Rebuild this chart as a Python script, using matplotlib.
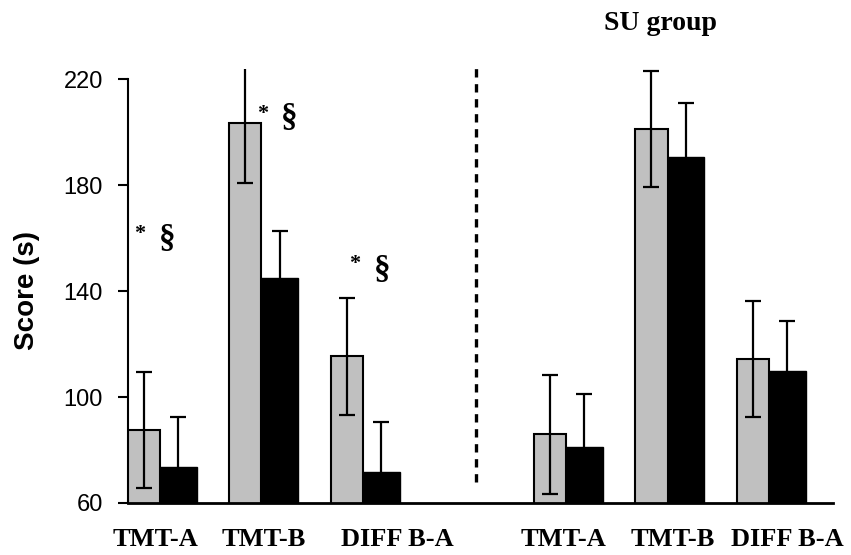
import matplotlib
matplotlib.use("Agg")
import matplotlib.pyplot as plt

# group positions (left group, gap, SU group)
positions = [0, 1, 2, 4, 5, 6]
labels = ["TMT-A", "TMT-B", "DIFF B-A", "TMT-A", "TMT-B", "DIFF B-A"]
label_pos = [-0.04, 1.02, 2.34, 3.97, 5.05, 6.18]

# grey bars / black bars, mean and SD
grey_vals = [87.5, 203.4, 115.3, 85.9, 201.1, 114.3]
grey_err = [22.0, 22.6, 22.1, 22.4, 21.9, 21.9]
black_vals = [73.6, 145.0, 71.7, 81.1, 190.6, 110.0]
black_err = [19.0, 17.6, 19.0, 20.0, 20.4, 18.7]

# significance marks: "*" and "§"
star_x = [-0.2, 1.015, 1.92]
star_y = [161.5, 206.8, 150.2]
sect_x = [0.07, 1.27, 2.19]
sect_y = [160, 205.3, 148]

fig = plt.figure(figsize=(8.51, 5.55), dpi=100, facecolor="white")
ax = fig.add_axes([0.1504, 0.0937, 0.8285, 0.7811])

xg = [p - 0.16 for p in positions]
xb = [p + 0.18 for p in positions]
ax.bar(xg, grey_vals, width=0.32, color="#c0c0c0", edgecolor="black", linewidth=1.5, zorder=2)
ax.bar(xb, black_vals, width=0.36, color="black", edgecolor="black", linewidth=1.0, zorder=2)
ax.errorbar(xg, grey_vals, yerr=grey_err, fmt="none", ecolor="black", elinewidth=1.6,
            capsize=6, capthick=1.6, zorder=3)
ax.errorbar(xb, black_vals, yerr=black_err, fmt="none", ecolor="black", elinewidth=1.6,
            capsize=6, capthick=1.6, zorder=3)

# dashed separator between the two groups
ax.plot([3.11, 3.11], [68, 225.3], color="black", lw=2.4, linestyle=(0, (2.5, 2.0)), clip_on=False)

for x, y in zip(star_x, star_y):
    ax.text(x, y, "*", ha="center", va="center", fontsize=16,
            family="Liberation Serif", fontweight="bold")
for x, y in zip(sect_x, sect_y):
    ax.text(x, y, "\u00a7", ha="center", va="center", fontsize=24,
            family="Liberation Serif", fontweight="bold")

ax.set_xlim(-0.315, 6.63)
ax.set_ylim(60, 223.6)
ax.spines["top"].set_visible(False)
ax.spines["right"].set_visible(False)
ax.spines["left"].set_bounds(60, 220)
ax.spines["left"].set_linewidth(1.5)
ax.spines["bottom"].set_linewidth(2.0)

ax.set_yticks([60, 100, 140, 180, 220])
ax.tick_params(axis="y", length=7, width=1.5, pad=11, labelsize=17)
for t in ax.get_yticklabels():
    t.set_family("Liberation Sans")

ax.set_xticks(label_pos)
ax.set_xticklabels(labels, family="Liberation Serif", fontweight="bold", fontsize=19)
ax.tick_params(axis="x", length=0, pad=18)

fig.text(27 / 851, 1 - 290 / 555, "Score (s)", rotation=90, ha="center", va="center",
         fontsize=20, fontweight="bold", family="Liberation Sans")
fig.text(660 / 851, 1 - 23 / 555, "SU group", ha="center", va="center",
         fontsize=20, fontweight="bold", family="Liberation Serif")

fig.savefig("out.png", dpi=100)
